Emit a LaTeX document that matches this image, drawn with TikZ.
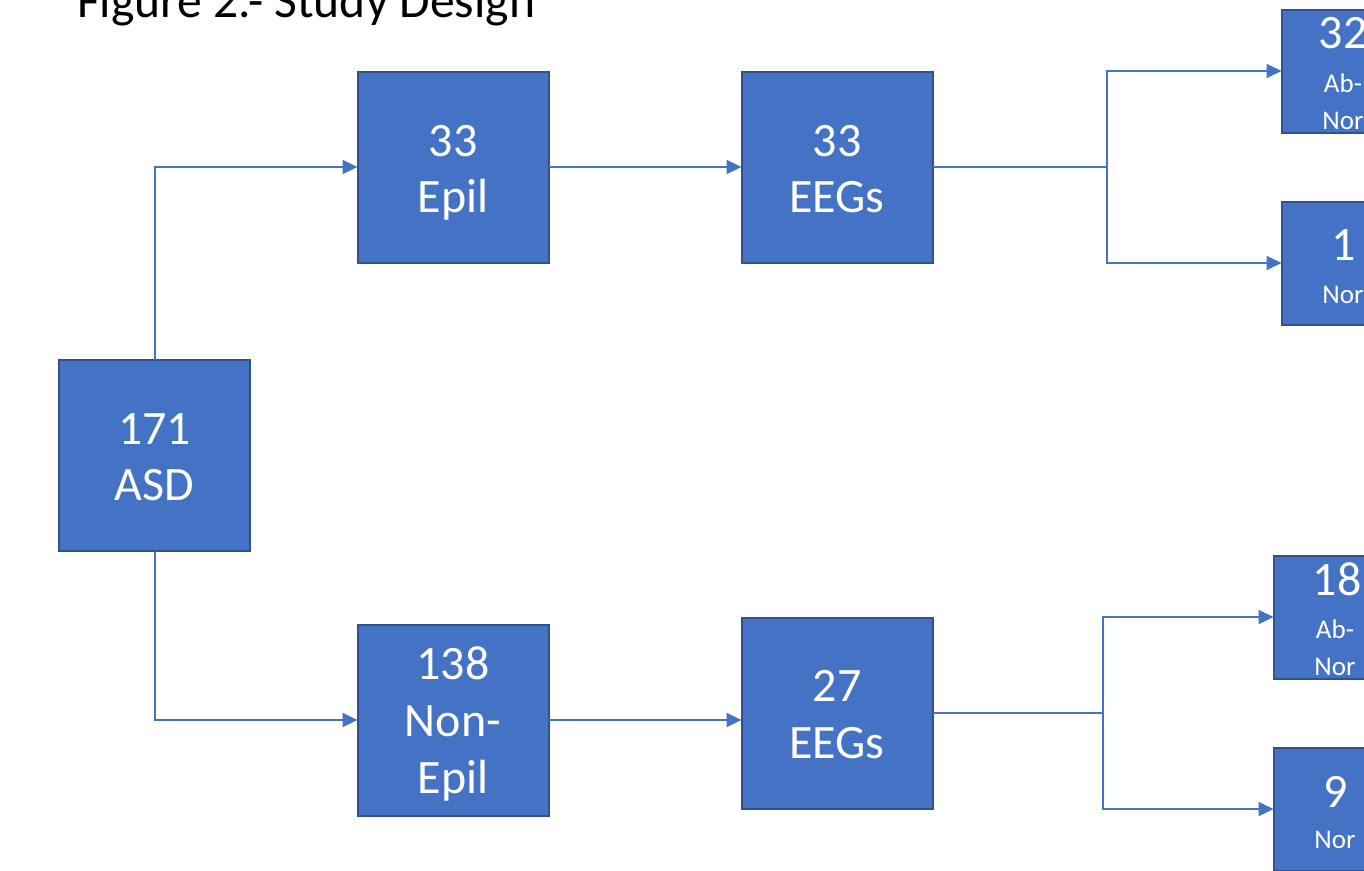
\documentclass[tikz,border=0pt]{standalone}
\usepackage{fontspec}
\setmainfont{Carlito}
\usetikzlibrary{arrows.meta}
\definecolor{boxfill}{HTML}{4472C4}
\definecolor{boxline}{HTML}{2F528F}
\definecolor{conncol}{HTML}{4472C4}
\tikzset{
  bigbox/.style={draw=boxline, fill=boxfill, line width=2pt, minimum width=191pt, minimum height=191pt, inner sep=0pt, outer sep=0pt},
  smallbox/.style={draw=boxline, fill=boxfill, line width=2pt, minimum width=123pt, minimum height=123pt, inner sep=0pt, outer sep=0pt},
  bigtxt/.style={anchor=base, inner sep=0pt, text=white, font=\fontsize{48}{56}\selectfont},
  smalltxt/.style={anchor=base, inner sep=0pt, text=white, font=\fontsize{27}{33}\selectfont},
  conn/.style={draw=conncol, line width=2pt, -{Triangle[length=15pt,width=14pt]}},
  plainconn/.style={draw=conncol, line width=2pt}
}
\begin{document}
\begin{tikzpicture}[x=1pt,y=-1pt]
\useasboundingbox (0,0) rectangle (1364,870);
\clip (0,0) rectangle (1364,870);
\fill[white] (0,0) rectangle (1364,870);

% title
\node[anchor=base west, inner sep=0pt, font=\fontsize{49.6}{56}\selectfont] (title) at (77,17) {Figure 2.- Study Design};

% boxes
\node[bigbox] (asd) at (154.5,455) {};
\node[bigbox] (epil) at (453,167) {};
\node[bigbox] (eegA) at (837,167) {};
\node[bigbox] (nonepil) at (453,720) {};
\node[bigbox] (eegB) at (837,713) {};
\node[smallbox] (ab32) at (1343,71) {};
\node[smallbox] (n1) at (1343,263) {};
\node[smallbox] (ab18) at (1335,617) {};
\node[smallbox] (n9) at (1335,809) {};

% texts
\node[bigtxt] (asdA) at (154.5,444) {171};
\node[bigtxt] (asdB) at (154.5,500) {ASD};
\node[bigtxt] (epilA) at (453,156) {33};
\node[bigtxt] (epilB) at (453,212) {Epil};
\node[bigtxt] (eegAa) at (837,156) {33};
\node[bigtxt] (eegAb) at (837,212) {EEGs};
\node[bigtxt] (nonA) at (453,679) {138};
\node[bigtxt] (nonB) at (453,736) {Non-};
\node[bigtxt] (nonC) at (453,793) {Epil};
\node[bigtxt] (eegBa) at (837,701) {27};
\node[bigtxt] (eegBb) at (837,758) {EEGs};

\node[bigtxt] (t32) at (1343,48) {32};
\node[smalltxt] (t32b) at (1343,92) {Ab-};
\node[smalltxt] (t32c) at (1343,129) {Nor};
\node[bigtxt] (t1) at (1344,260) {1};
\node[smalltxt] (t1b) at (1343,303) {Nor};
\node[bigtxt] (t18) at (1337,595) {18};
\node[smalltxt] (t18b) at (1335,638) {Ab-};
\node[smalltxt] (t18c) at (1335,675) {Nor};
\node[bigtxt] (t9) at (1336,807) {9};
\node[smalltxt] (t9b) at (1335,848) {Nor};

% connectors
\draw[conn] (asd.north) |- (epil.west);
\draw[conn] (asd.south) |- (nonepil.west);
\draw[conn] (epil.east) -- (eegA.west);
\draw[conn] (nonepil.east) -- (eegB.west |- nonepil.east);

\coordinate (bA) at (1107,167);
\draw[plainconn] (eegA.east) -- (bA);
\draw[conn] (bA) |- (ab32.west);
\draw[conn] (bA) |- (n1.west);

\coordinate (bB) at (1103,713);
\draw[plainconn] (eegB.east) -- (bB);
\draw[conn] (bB) |- (ab18.west);
\draw[conn] (bB) |- (n9.west);
\end{tikzpicture}
\end{document}
